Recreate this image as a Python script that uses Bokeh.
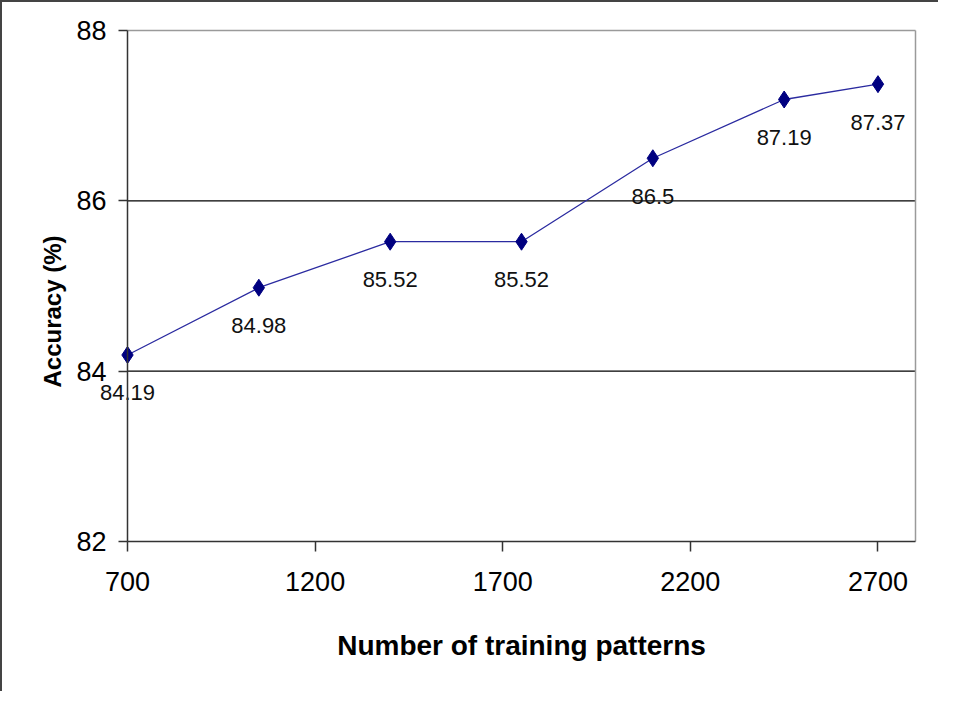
import math
from bokeh.plotting import figure
from bokeh.models import FixedTicker, LabelSet, Label, ColumnDataSource, Range1d
from bokeh.core.properties import value
from bokeh.embed import file_html
from bokeh.resources import INLINE

# Data
patterns = [700, 1050, 1400, 1750, 2100, 2450, 2700]
accuracy = [84.19, 84.98, 85.52, 85.52, 86.5, 87.19, 87.37]
labels = ["84.19", "84.98", "85.52", "85.52", "86.5", "87.19", "87.37"]
x_ticks = [700, 1200, 1700, 2200, 2700]
y_ticks = [82, 84, 86, 88]
y_grid = [84, 86]
x_bounds = (700, 2800)
y_bounds = (82, 88)
x_title = "Number of training patterns"
y_title = "Accuracy (%)"

FONT = "Liberation Sans"

# ---- layout (pixels): the chart area spans 788 x 511 px inside a wider frame
PLOT_W, PLOT_H = 788, 511
PAD_L, PAD_T, PAD_R, PAD_B = 95, 22, 3, 148
kx = PLOT_W / (x_bounds[1] - x_bounds[0])
ky = PLOT_H / (y_bounds[1] - y_bounds[0])
x_range = Range1d(x_bounds[0] - PAD_L / kx, x_bounds[1] + PAD_R / kx)
y_range = Range1d(y_bounds[0] - PAD_B / ky, y_bounds[1] + PAD_T / ky)

src = ColumnDataSource(dict(x=patterns, y=accuracy, t=labels))
grid_src = ColumnDataSource(dict(y=y_grid))

p = figure(
    output_backend="svg", toolbar_location=None,
    frame_width=PLOT_W + PAD_L + PAD_R, frame_height=PLOT_H + PAD_T + PAD_B,
    min_border_left=30, min_border_top=6, min_border_right=20, min_border_bottom=2,
    x_range=x_range, y_range=y_range,
    background_fill_color="white", border_fill_color="white",
)
p.styles = {"border-left": "2px solid #444444", "border-top": "2px solid #444444"}
p.outline_line_color = None
p.xgrid.visible = False
p.ygrid.visible = False

# horizontal grid lines at 84 and 86, across the chart area only
p.segment(x0=x_bounds[0], x1=x_bounds[1], y0="y", y1="y", source=grid_src,
          line_color="black", line_width=1.2)
# light top and right edges of the chart area
p.segment(x0=[x_bounds[0], x_bounds[1]], x1=[x_bounds[1], x_bounds[1]],
          y0=[y_bounds[1], y_bounds[0]], y1=[y_bounds[1], y_bounds[1]],
          line_color="#9a9a9a", line_width=1.5)

# axes fixed at the chart area's left and bottom edges
p.xaxis.fixed_location = y_bounds[0]
p.xaxis.bounds = x_bounds
p.yaxis.fixed_location = x_bounds[0]
p.yaxis.bounds = y_bounds
p.xaxis.ticker = FixedTicker(ticks=x_ticks)
p.yaxis.ticker = FixedTicker(ticks=y_ticks)
p.xaxis.minor_tick_line_color = None
p.yaxis.minor_tick_line_color = None
for ax in (p.xaxis[0], p.yaxis[0]):
    ax.axis_line_color = "#333333"
    ax.axis_line_width = 1.5
    ax.major_tick_line_color = "#333333"
    ax.major_tick_line_width = 1.5
    ax.major_tick_in = 0
    ax.major_label_text_font = FONT
    ax.major_label_text_font_size = "27px"
    ax.major_label_text_color = "black"
p.xaxis.major_tick_out = 10
p.yaxis.major_tick_out = 9
p.xaxis.major_label_standoff = 20
p.yaxis.major_label_standoff = 12

# axis titles
p.add_layout(Label(x=(x_bounds[0] + x_bounds[1]) / 2, y=y_bounds[0], y_offset=-104,
                   text=x_title, text_align="center", text_baseline="middle",
                   text_font=FONT, text_font_style="bold", text_font_size="28px",
                   text_color="black"))
p.add_layout(Label(x=x_bounds[0], x_offset=-75, y=y_bounds[0], y_offset=230,
                   text=y_title, angle=math.pi / 2, text_align="center",
                   text_baseline="middle", text_font=FONT, text_font_style="bold",
                   text_font_size="24px", text_color="black"))

p.line("x", "y", source=src, line_color="#2b2ba0", line_width=1.3)
p.scatter("x", "y", source=src, marker="diamond", size=17,
          fill_color="#000080", line_color="#000080")
p.add_layout(LabelSet(x="x", y="y", text="t", source=src, y_offset=-38, level="glyph",
                      text_align="center", text_baseline="middle",
                      text_font=value(FONT), text_font_size="22px", text_color="#111111"))

open("out.html", "w").write(file_html(p, INLINE))
